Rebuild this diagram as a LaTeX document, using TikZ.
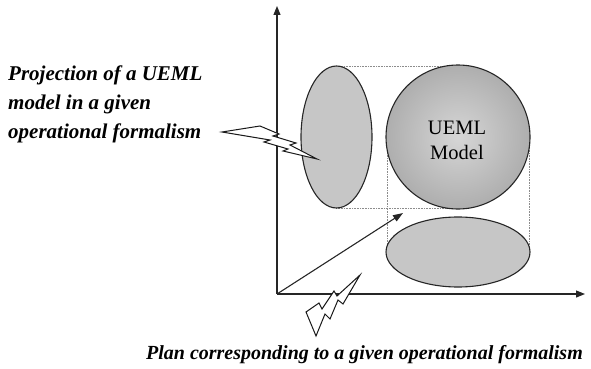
\documentclass[tikz,border=0pt]{standalone}
\usepackage{fontspec}
\setmainfont{Liberation Serif}
\usetikzlibrary{shapes.geometric,arrows.meta}
\definecolor{ellgray}{HTML}{C6C6C6}
\definecolor{rimgray}{HTML}{AEAEAE}
\definecolor{midgray}{HTML}{D6D6D6}
\tikzset{
  axis/.style={line width=1.1pt, draw=black!85, -{Triangle[length=9pt,width=7pt]}},
  blob/.style={ellipse, draw=black!85, line width=1.1pt, fill=ellgray, inner sep=0pt},
  guide/.style={draw=black!45, line width=0.6pt, densely dotted},
  bolt/.style={draw=black!90, fill=white, line width=1pt, line join=miter},
  lbl/.style={font=\fontsize{21}{29}\selectfont\bfseries\itshape, anchor=base west, inner sep=0pt},
}
\begin{document}
\begin{tikzpicture}[x=1pt,y=-1pt]
\useasboundingbox (0,0) rectangle (591,369);
% guides (behind shapes)
\draw[guide] (336,66) -- (458,66);
\draw[guide] (336,208) -- (458,208);
\draw[guide] (387,150) -- (387,252);
\draw[guide] (529,137) -- (529,252);
% shapes
\node[blob, minimum width=71pt, minimum height=142pt] (proj) at (336.5,137) {};
\node[blob, minimum width=144pt, minimum height=70pt] (plan) at (458,252) {};
\shade[inner color=midgray, outer color=rimgray, draw=black!85, line width=1.1pt] (458,137) circle [radius=72];
\node[circle, minimum size=144pt, inner sep=0pt] (model) at (458,137) {};
\node[font=\fontsize{20.5}{25}\selectfont, anchor=base, inner sep=0pt] (m1) at (457,134) {UEML};
\node[font=\fontsize{20.5}{25}\selectfont, anchor=base, inner sep=0pt] (m2) at (457,159) {Model};
% axes
\coordinate (o) at (277,294);
\coordinate (ytop) at (277,6);
\coordinate (xend) at (585,294);
\coordinate (ztip) at (403,213);
\draw[axis] (o) -- (ytop);
\draw[axis] (o) -- (xend);
\draw[line width=1.1pt, draw=black!85, -{Triangle[length=10pt,width=7pt]}] (o) -- (ztip);
% lightning bolts
\draw[bolt] (222,132) -- (260,126) -- (279,134) -- (273,136) -- (296,143) -- (290,145) -- (317,159)
  -- (283,151) -- (288,149) -- (264,142) -- (270,140) -- cycle;
\draw[bolt] (360,275) -- (343,304) -- (338,300) -- (330,319) -- (325,314) -- (316,336)
  -- (306,312) -- (319,303) -- (322,309) -- (334,291) -- (337,296) -- cycle;
% texts
\node[lbl] (p1) at (8,80) {Projection of a UEML};
\node[lbl] (p2) at (8,109) {model in a given};
\node[lbl] (p3) at (8,138) {operational formalism};
\node[font=\fontsize{20}{24}\selectfont\bfseries\itshape, anchor=base east, inner sep=0pt] (plantxt) at (583,359) {Plan corresponding to a given operational formalism};
\end{tikzpicture}
\end{document}
